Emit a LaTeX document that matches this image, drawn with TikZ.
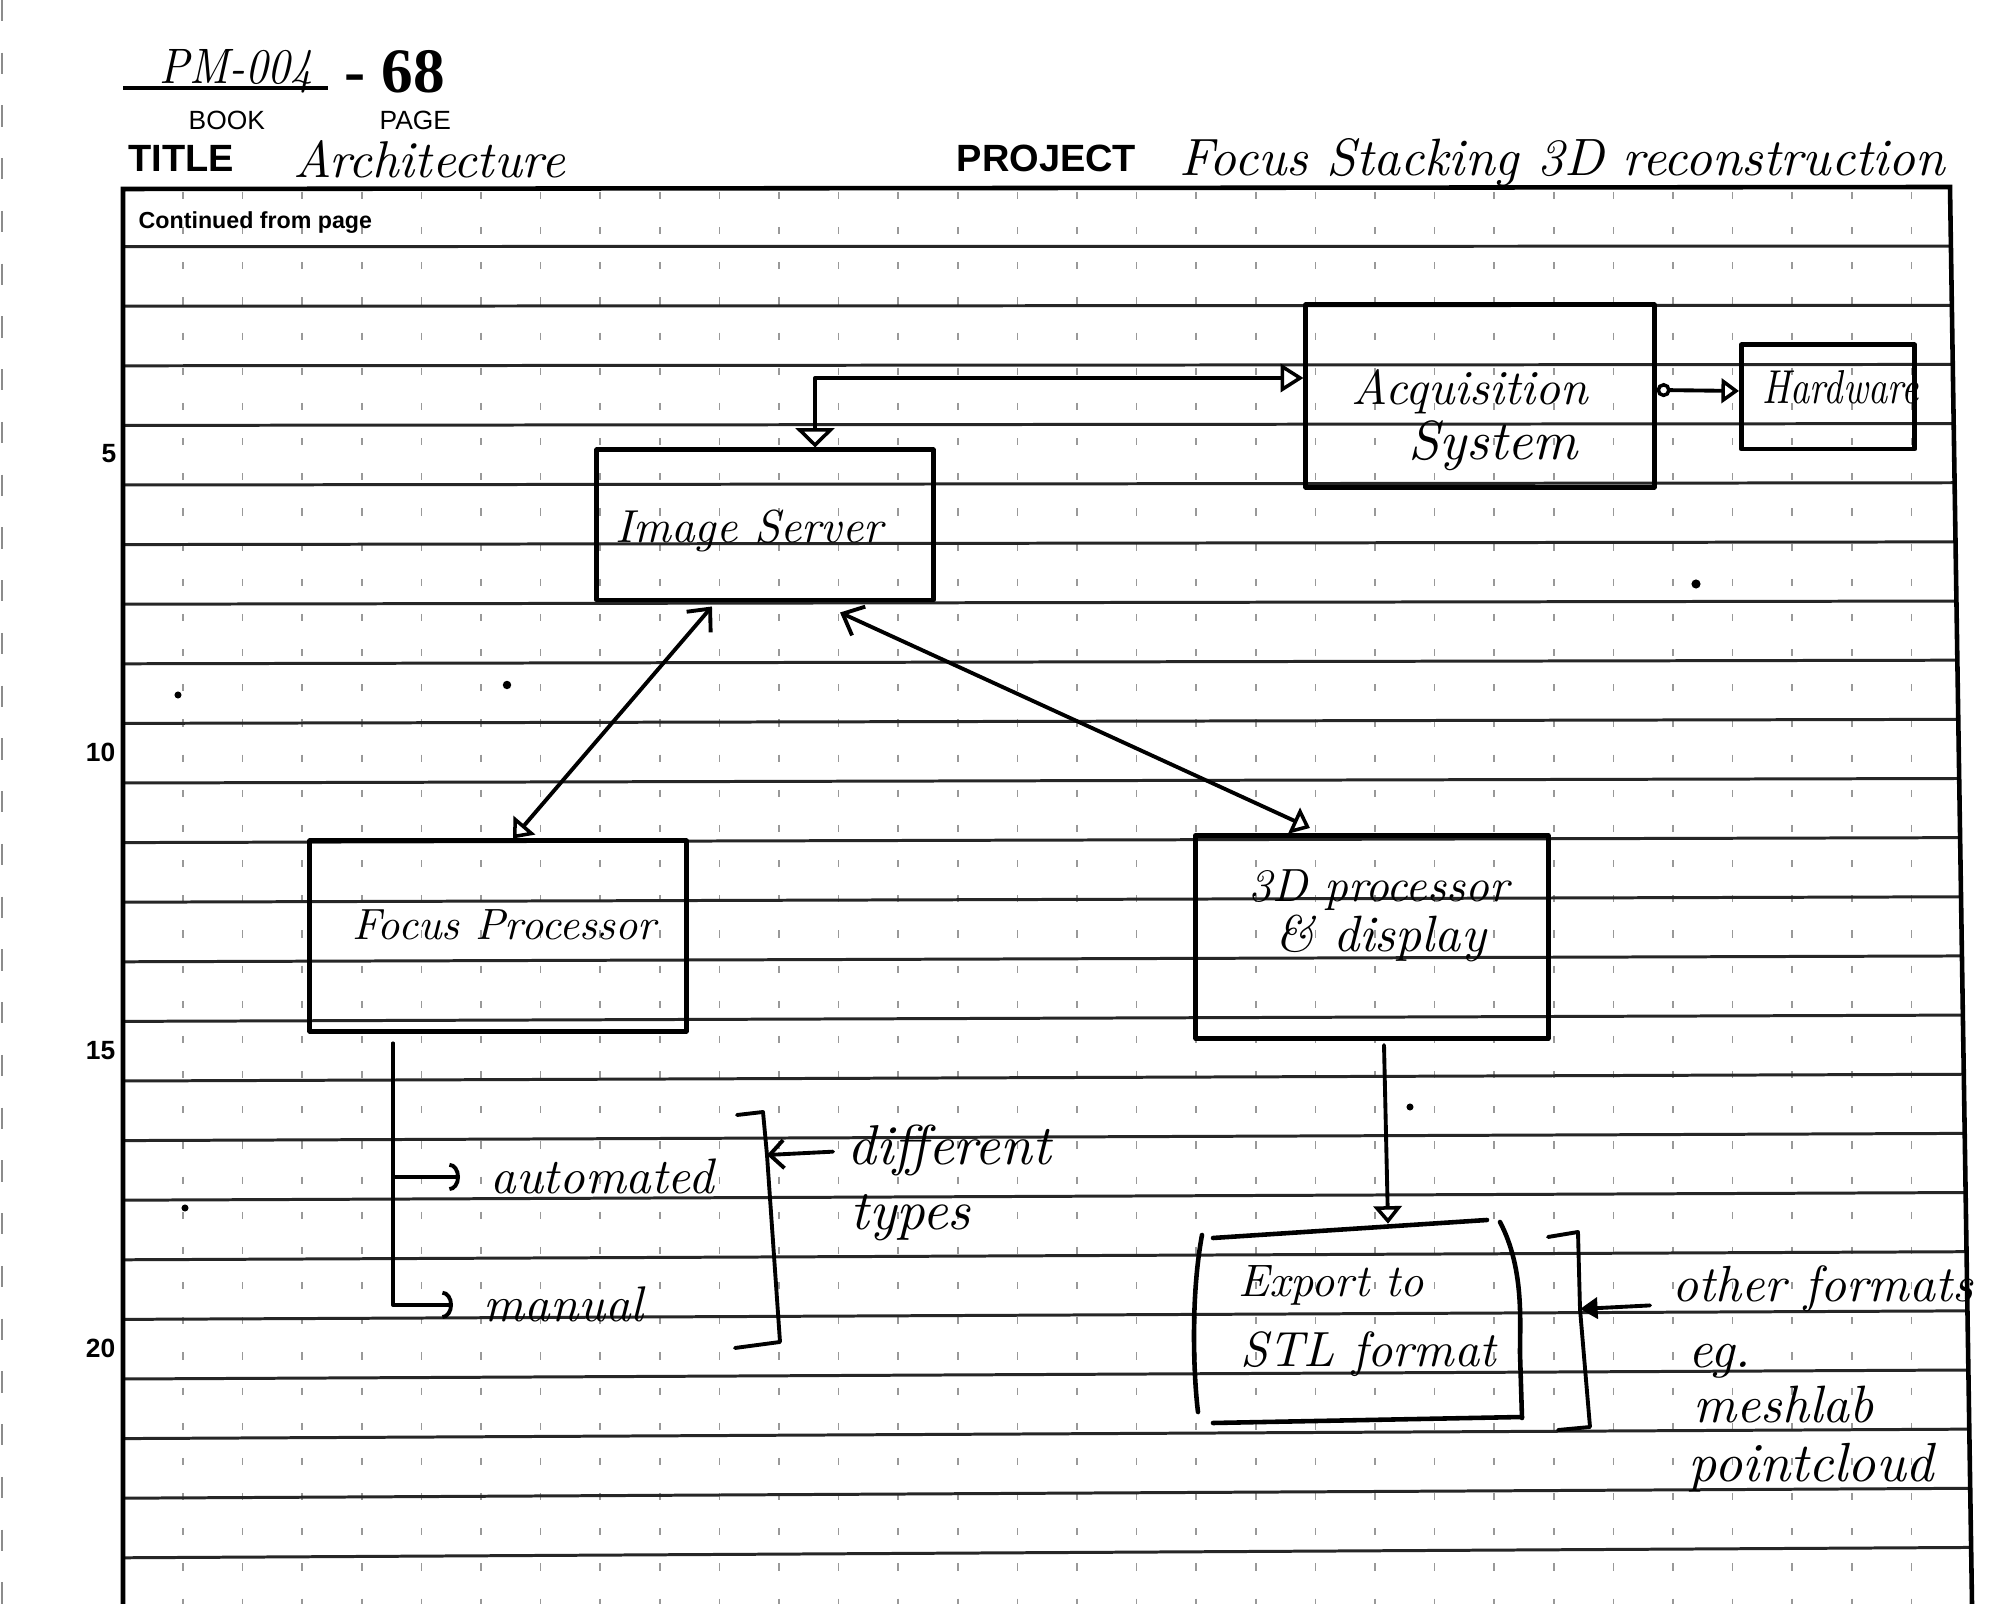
\documentclass[tikz,border=0pt]{standalone}
\usepackage{fontspec}
\usepackage{graphicx}
\setsansfont{Liberation Sans}
\newfontfamily\printserif{Liberation Serif}
\usetikzlibrary{arrows.meta,calc}
\newcommand{\hw}[2]{\resizebox{#1}{!}{\itshape #2}}
\newcommand{\hwh}[3]{\resizebox{#1}{#2}{\itshape #3}}
\tikzset{
  pen/.style={line width=1.1pt, line cap=round, line join=round},
  boxst/.style={draw, line width=1.4pt, inner sep=0pt, line join=round},
  rulel/.style={line width=0.85pt, black!85},
  gridv/.style={line width=0.45pt, black!40, dash pattern=on 2pt off 8pt},
  hand/.style={anchor=base west, inner sep=0pt},
  printed/.style={anchor=base west, inner sep=0pt},
  otri/.tip={Triangle[open, length=5pt, width=8pt, line width=1pt]},
}
\begin{document}
\begin{tikzpicture}[x=0.01cm, y=-0.01cm]
\useasboundingbox (0,0) rectangle (1999,1604);
\fill[white] (0,0) rectangle (1999,1604);

% scan edge on the left
\draw[line width=0.4pt, black!45, dash pattern=on 6pt off 9pt] (2,0) -- (2,1604);

% vertical grid dashes
\foreach \j in {0,...,29} {
  \pgfmathsetmacro\xv{183+59.6*\j}
  \draw[gridv] (\xv,192) -- (\xv,1604);
}
% ruled lines
\foreach \k in {1,...,23} {
  \pgfmathsetmacro\yl{187+59.6*\k}
  \pgfmathsetmacro\yr{\yl-0.45*\k}
  \pgfmathsetmacro\xr{1950+0.015526*(\yr-187)}
  \draw[rulel] (123,\yl) -- (\xr,\yr);
}
% frame
\draw[line width=1.3pt] (123,1604) -- (123,189) -- (1950,187) -- (1972,1604);

% header
\draw[line width=1.3pt] (123,88) -- (328,88);
\node[hand] (bookno) at (159,84) {\hwh{1.53cm}{0.34cm}{PM-004}};
\node[printed, font=\printserif\bfseries\fontsize{18}{20}\selectfont] (pageno) at (344,93) {- 68};
\node[printed, font=\sffamily\fontsize{7.5}{9}\selectfont] (booklbl) at (188,130) {BOOK};
\node[printed, font=\sffamily\fontsize{7.5}{9}\selectfont] (pagelbl) at (379,130) {PAGE};
\node[printed, font=\sffamily\bfseries\fontsize{10.8}{12}\selectfont] (titlelbl) at (128,172) {TITLE};
\node[hand] (titletxt) at (293,178) {\hw{2.71cm}{Architecture}};
\node[printed, font=\sffamily\bfseries\fontsize{10.8}{12}\selectfont] (projlbl) at (956,172) {PROJECT};
\node[hand] (projtxt) at (1179,176) {\hw{7.65cm}{Focus Stacking 3D reconstruction}};
\node[printed, font=\sffamily\bfseries\fontsize{6.6}{8}\selectfont] (contd) at (138,229) {Continued from page};

% margin numbers
\node[anchor=base east, inner sep=0pt, font=\sffamily\bfseries\fontsize{7.5}{9}\selectfont] (n5) at (117,463) {5};
\node[anchor=base east, inner sep=0pt, font=\sffamily\bfseries\fontsize{7.5}{9}\selectfont] (n10) at (116,762) {10};
\node[anchor=base east, inner sep=0pt, font=\sffamily\bfseries\fontsize{7.5}{9}\selectfont] (n15) at (116,1060) {15};
\node[anchor=base east, inner sep=0pt, font=\sffamily\bfseries\fontsize{7.5}{9}\selectfont] (n20) at (116,1358) {20};

% boxes
\node[boxst, minimum width=3.36cm, minimum height=1.50cm] (IS) at (765,525) {};
\node[boxst, minimum width=3.48cm, minimum height=1.82cm] (Acq) at (1480,396) {};
\node[boxst, minimum width=1.73cm, minimum height=1.04cm] (HW) at (1828,397) {};
\node[boxst, minimum width=3.76cm, minimum height=1.90cm] (FP) at (498,936) {};
\node[boxst, minimum width=3.52cm, minimum height=2.03cm] (P3D) at (1372,937) {};
\node[inner sep=0pt, minimum width=3.20cm, minimum height=1.95cm] (export) at (1360,1322) {};

% export box drawn by hand
\draw[pen, line width=1.3pt] (1213,1238) -- (1487,1220);
\draw[pen, line width=1.3pt] (1202,1235) .. controls (1190,1300) and (1194,1380) .. (1198,1412);
\draw[pen, line width=1.3pt] (1500,1222) .. controls (1524,1268) and (1520,1320) .. (1520,1353) -- (1522,1418);
\draw[pen, line width=1.3pt] (1213,1423) -- (1522,1417);

% texts in boxes
\node[hand] (istext) at (615,543) {\hw{2.67cm}{Image Server}};
\node[hand] (acqtext1) at (1351,405) {\hw{2.36cm}{Acquisition}};
\node[hand] (acqtext2) at (1408,460) {\hw{1.69cm}{System}};
\node[hand] (hwtext) at (1762,404) {\hwh{1.56cm}{0.33cm}{Hardware}};
\node[hand] (fptext) at (352,940) {\hw{3.03cm}{Focus Processor}};
\node[hand] (p3dtext1) at (1248,902) {\hw{2.60cm}{3D processor}};
\node[hand] (p3dtext2) at (1275,952) {\hw{2.10cm}{\& display}};
\node[hand] (exptext1) at (1238,1297) {\hw{1.85cm}{Export to}};
\node[hand] (exptext2) at (1240,1367) {\hw{2.55cm}{STL format}};

% side notes
\node[hand] (auto) at (490,1194) {\hw{2.23cm}{automated}};
\node[hand] (manual) at (483,1322) {\hw{1.60cm}{manual}};
\node[hand] (diff) at (847,1165) {\hw{2.03cm}{different}};
\node[hand] (types) at (850,1230) {\hw{1.20cm}{types}};
\node[hand] (other) at (1672,1302) {\hw{3.00cm}{other formats}};
\node[hand] (eg) at (1688,1368) {\hw{0.62cm}{eg.}};
\node[hand] (mesh) at (1693,1423) {\hw{1.80cm}{meshlab}};
\node[hand] (pc) at (1688,1482) {\hw{2.45cm}{pointcloud}};

% brackets
\coordinate (br1) at (767,1155);
\draw[pen] (737,1115) -- (763,1112) -- (br1) -- (780,1342) -- (735,1348);
\coordinate (br2) at (1580,1309);
\draw[pen] (1548,1237) -- (1578,1232) -- (br2) -- (1590,1427) -- (1558,1430);

% connectors
\draw[pen, {Triangle[open, length=5.5pt, width=11pt, line width=1pt]}-{Triangle[open, length=6.5pt, width=8pt, line width=1pt]}]
  ([xshift=5mm]IS.north) |- ([yshift=1.8mm]Acq.west);
\draw[pen, {Circle[open, length=4pt, line width=1pt]}-{Triangle[open, length=5pt, width=7pt, line width=1pt]}]
  ([yshift=0.6mm]Acq.east) -- ([yshift=0.6mm]HW.west);
\draw[pen, {Straight Barb[length=5pt, width=9pt]}-otri]
  ([xshift=-5.3mm, yshift=-0.4mm]IS.south) -- ([xshift=1.5mm]FP.north);
\draw[pen, {Straight Barb[length=5pt, width=9pt]}-otri]
  ([xshift=7.5mm, yshift=-1mm]IS.south) -- ([xshift=-6.2mm, yshift=0.5mm]P3D.north);
\draw[pen, -{Arc Barb[length=3pt, width=8pt]}, shorten >=3mm]
  ([xshift=-10.5mm, yshift=-1mm]FP.south) |- (auto.west);
\draw[pen, -{Arc Barb[length=3pt, width=8pt]}, shorten >=3mm]
  ([xshift=-10.5mm, yshift=-1mm]FP.south) |- (manual.west);
\draw[pen, -{Straight Barb[length=4pt, width=8pt]}, shorten <=1.4mm]
  (diff.west) -- (br1);
\draw[pen, -otri]
  ([xshift=1.2mm, yshift=-0.4mm]P3D.south) -- ([xshift=2.8mm]export.north);
\draw[pen, -{Triangle[length=5pt, width=6pt]}, shorten <=2.2mm]
  ([yshift=-1.5mm]other.west) -- (br2);

% specks
\fill (1696,584) circle (1.3pt);
\fill (507,685) circle (1.2pt);
\fill (178,695) circle (1pt);
\fill (185,1208) circle (1pt);
\fill (1410,1107) circle (1pt);
\end{tikzpicture}
\end{document}
